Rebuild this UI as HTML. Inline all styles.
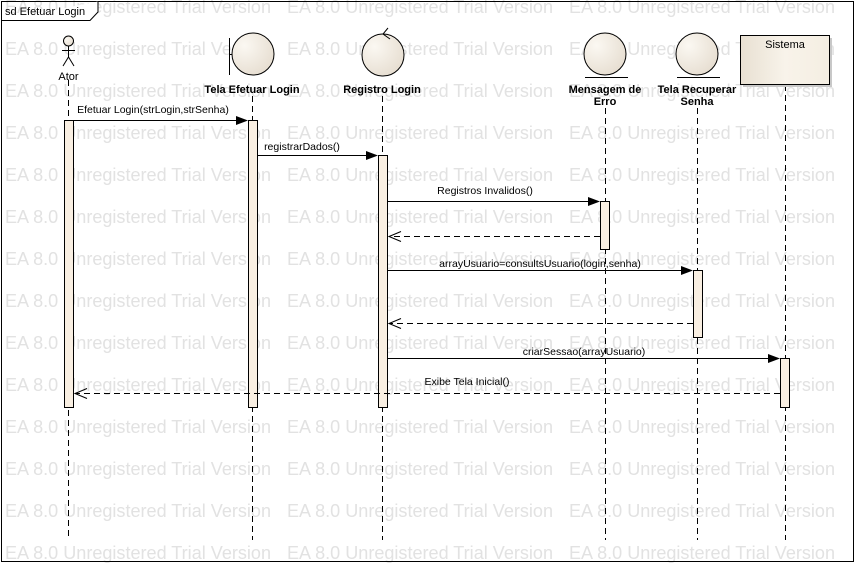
<!DOCTYPE html>
<html><head><meta charset="utf-8"><style>
html,body{margin:0;padding:0;background:#fff;width:855px;height:563px;overflow:hidden}
svg{display:block}
.wm{font-family:"Liberation Sans",sans-serif;font-size:18px;fill:#e2e2e2}
.lb{font-family:"Liberation Sans",sans-serif;font-size:11px;font-weight:bold;fill:#000}
.ml{font-family:"Liberation Sans",sans-serif;font-size:10.5px;fill:#000}
</style></head><body>
<svg width="855" height="563" viewBox="0 0 855 563" xmlns="http://www.w3.org/2000/svg">
<defs>
<radialGradient id="g" cx="0.3" cy="0.3" r="0.8"><stop offset="0" stop-color="#fbf8f2"/><stop offset="1" stop-color="#e6ddd0"/></radialGradient>
<linearGradient id="gr" x1="0" y1="0" x2="1" y2="0"><stop offset="0" stop-color="#e8e0d2"/><stop offset="0.5" stop-color="#f8f3ea"/><stop offset="1" stop-color="#f4eee2"/></linearGradient>
<text id="w" class="wm" textLength="266" lengthAdjust="spacingAndGlyphs">EA 8.0 Unregistered Trial Version</text>
</defs>
<rect width="855" height="563" fill="#fff"/>
<g class="wm">
<text x="5" y="13" textLength="266" lengthAdjust="spacingAndGlyphs">EA 8.0 Unregistered Trial Version</text><text x="287" y="13" textLength="266" lengthAdjust="spacingAndGlyphs">EA 8.0 Unregistered Trial Version</text><text x="569" y="13" textLength="266" lengthAdjust="spacingAndGlyphs">EA 8.0 Unregistered Trial Version</text>
<text x="5" y="55" textLength="266" lengthAdjust="spacingAndGlyphs">EA 8.0 Unregistered Trial Version</text><text x="287" y="55" textLength="266" lengthAdjust="spacingAndGlyphs">EA 8.0 Unregistered Trial Version</text><text x="569" y="55" textLength="266" lengthAdjust="spacingAndGlyphs">EA 8.0 Unregistered Trial Version</text>
<text x="5" y="97" textLength="266" lengthAdjust="spacingAndGlyphs">EA 8.0 Unregistered Trial Version</text><text x="287" y="97" textLength="266" lengthAdjust="spacingAndGlyphs">EA 8.0 Unregistered Trial Version</text><text x="569" y="97" textLength="266" lengthAdjust="spacingAndGlyphs">EA 8.0 Unregistered Trial Version</text>
<text x="5" y="139" textLength="266" lengthAdjust="spacingAndGlyphs">EA 8.0 Unregistered Trial Version</text><text x="287" y="139" textLength="266" lengthAdjust="spacingAndGlyphs">EA 8.0 Unregistered Trial Version</text><text x="569" y="139" textLength="266" lengthAdjust="spacingAndGlyphs">EA 8.0 Unregistered Trial Version</text>
<text x="5" y="181" textLength="266" lengthAdjust="spacingAndGlyphs">EA 8.0 Unregistered Trial Version</text><text x="287" y="181" textLength="266" lengthAdjust="spacingAndGlyphs">EA 8.0 Unregistered Trial Version</text><text x="569" y="181" textLength="266" lengthAdjust="spacingAndGlyphs">EA 8.0 Unregistered Trial Version</text>
<text x="5" y="223" textLength="266" lengthAdjust="spacingAndGlyphs">EA 8.0 Unregistered Trial Version</text><text x="287" y="223" textLength="266" lengthAdjust="spacingAndGlyphs">EA 8.0 Unregistered Trial Version</text><text x="569" y="223" textLength="266" lengthAdjust="spacingAndGlyphs">EA 8.0 Unregistered Trial Version</text>
<text x="5" y="265" textLength="266" lengthAdjust="spacingAndGlyphs">EA 8.0 Unregistered Trial Version</text><text x="287" y="265" textLength="266" lengthAdjust="spacingAndGlyphs">EA 8.0 Unregistered Trial Version</text><text x="569" y="265" textLength="266" lengthAdjust="spacingAndGlyphs">EA 8.0 Unregistered Trial Version</text>
<text x="5" y="307" textLength="266" lengthAdjust="spacingAndGlyphs">EA 8.0 Unregistered Trial Version</text><text x="287" y="307" textLength="266" lengthAdjust="spacingAndGlyphs">EA 8.0 Unregistered Trial Version</text><text x="569" y="307" textLength="266" lengthAdjust="spacingAndGlyphs">EA 8.0 Unregistered Trial Version</text>
<text x="5" y="349" textLength="266" lengthAdjust="spacingAndGlyphs">EA 8.0 Unregistered Trial Version</text><text x="287" y="349" textLength="266" lengthAdjust="spacingAndGlyphs">EA 8.0 Unregistered Trial Version</text><text x="569" y="349" textLength="266" lengthAdjust="spacingAndGlyphs">EA 8.0 Unregistered Trial Version</text>
<text x="5" y="391" textLength="266" lengthAdjust="spacingAndGlyphs">EA 8.0 Unregistered Trial Version</text><text x="287" y="391" textLength="266" lengthAdjust="spacingAndGlyphs">EA 8.0 Unregistered Trial Version</text><text x="569" y="391" textLength="266" lengthAdjust="spacingAndGlyphs">EA 8.0 Unregistered Trial Version</text>
<text x="5" y="433" textLength="266" lengthAdjust="spacingAndGlyphs">EA 8.0 Unregistered Trial Version</text><text x="287" y="433" textLength="266" lengthAdjust="spacingAndGlyphs">EA 8.0 Unregistered Trial Version</text><text x="569" y="433" textLength="266" lengthAdjust="spacingAndGlyphs">EA 8.0 Unregistered Trial Version</text>
<text x="5" y="475" textLength="266" lengthAdjust="spacingAndGlyphs">EA 8.0 Unregistered Trial Version</text><text x="287" y="475" textLength="266" lengthAdjust="spacingAndGlyphs">EA 8.0 Unregistered Trial Version</text><text x="569" y="475" textLength="266" lengthAdjust="spacingAndGlyphs">EA 8.0 Unregistered Trial Version</text>
<text x="5" y="517" textLength="266" lengthAdjust="spacingAndGlyphs">EA 8.0 Unregistered Trial Version</text><text x="287" y="517" textLength="266" lengthAdjust="spacingAndGlyphs">EA 8.0 Unregistered Trial Version</text><text x="569" y="517" textLength="266" lengthAdjust="spacingAndGlyphs">EA 8.0 Unregistered Trial Version</text>
<text x="5" y="559" textLength="266" lengthAdjust="spacingAndGlyphs">EA 8.0 Unregistered Trial Version</text><text x="287" y="559" textLength="266" lengthAdjust="spacingAndGlyphs">EA 8.0 Unregistered Trial Version</text><text x="569" y="559" textLength="266" lengthAdjust="spacingAndGlyphs">EA 8.0 Unregistered Trial Version</text>
</g>
<!-- frame -->
<rect x="1.5" y="1.5" width="852" height="560" fill="none" stroke="#000"/>
<path d="M1.5 20.5 H90 L98 12 V1.5" fill="#fff" stroke="#000"/>
<text x="5" y="15" class="ml" style="font-size:11px">sd Efetuar Login</text>
<!-- lifelines -->
<g stroke="#000" stroke-dasharray="6,4" fill="none">
<line x1="68.5" y1="80" x2="68.5" y2="540"/>
<line x1="252.5" y1="96" x2="252.5" y2="540"/>
<line x1="382.5" y1="96" x2="382.5" y2="540"/>
<line x1="605.5" y1="108" x2="605.5" y2="540"/>
<line x1="697.5" y1="108" x2="697.5" y2="540"/>
<line x1="785.5" y1="85" x2="785.5" y2="540"/>
</g>
<!-- actor -->
<g stroke="#000" fill="none">
<circle cx="68.5" cy="41" r="5" fill="url(#g)"/>
<line x1="68.5" y1="46" x2="68.5" y2="57"/>
<line x1="62" y1="50.5" x2="75" y2="50.5"/>
<path d="M63 66 L68.5 57 L74 66"/>
</g>
<text x="68.5" y="80" class="ml" text-anchor="middle" style="font-size:11px">Ator</text>
<!-- boundary -->
<circle cx="253" cy="54" r="21" fill="url(#g)" stroke="#000"/>
<line x1="229.5" y1="38" x2="229.5" y2="75" stroke="#000"/>
<line x1="229.5" y1="54.5" x2="232" y2="54.5" stroke="#000"/>
<text x="252" y="93" class="lb" text-anchor="middle">Tela Efetuar Login</text>
<!-- control -->
<circle cx="383" cy="55" r="21" fill="url(#g)" stroke="#000"/>
<path d="M388 28 L383 34 L390 39" fill="none" stroke="#000"/>
<text x="382" y="93" class="lb" text-anchor="middle">Registro Login</text>
<!-- entities -->
<circle cx="605" cy="54" r="21" fill="url(#g)" stroke="#000"/>
<line x1="585" y1="77.5" x2="628" y2="77.5" stroke="#000"/>
<text x="605" y="93" class="lb" text-anchor="middle">Mensagem de</text>
<text x="605" y="105" class="lb" text-anchor="middle">Erro</text>
<circle cx="697" cy="54" r="21" fill="url(#g)" stroke="#000"/>
<line x1="677" y1="77.5" x2="720" y2="77.5" stroke="#000"/>
<text x="697" y="93" class="lb" text-anchor="middle">Tela Recuperar</text>
<text x="697" y="105" class="lb" text-anchor="middle">Senha</text>
<!-- sistema -->
<rect x="743" y="38" width="89" height="49" fill="#c8c8c8"/>
<rect x="740.5" y="35.5" width="89" height="49" fill="url(#gr)" stroke="#000"/>
<text x="785" y="48" class="ml" text-anchor="middle" style="font-size:11px">Sistema</text>
<!-- activations -->
<g fill="#f9efe2" stroke="#000">
<rect x="64.5" y="120.5" width="9" height="287"/>
<rect x="248.5" y="120.5" width="9" height="287"/>
<rect x="378.5" y="155.5" width="9" height="252"/>
<rect x="600.5" y="201.5" width="9" height="48"/>
<rect x="693.5" y="270.5" width="9" height="67"/>
<rect x="780.5" y="358.5" width="9" height="49"/>
</g>
<!-- messages -->
<g stroke="#000" fill="none">
<line x1="74" y1="120.5" x2="238" y2="120.5"/>
<line x1="258" y1="155.5" x2="368" y2="155.5"/>
<line x1="388" y1="201.5" x2="590" y2="201.5"/>
<line x1="388" y1="270.5" x2="683" y2="270.5"/>
<line x1="388" y1="358.5" x2="770" y2="358.5"/>
<g stroke-dasharray="6,4">
<line x1="600" y1="236.5" x2="389" y2="236.5"/>
<line x1="693" y1="323.5" x2="389" y2="323.5"/>
<line x1="780" y1="393.5" x2="75" y2="393.5"/>
</g>
<path d="M401 231.5 L389 236.5 L401 241.5"/>
<path d="M401 318.5 L389 323.5 L401 328.5"/>
<path d="M87 388.5 L75 393.5 L87 398.5"/>
</g>
<g fill="#000">
<path d="M236 116 L248 120.5 L236 125Z"/>
<path d="M366 151 L378 155.5 L366 160Z"/>
<path d="M588 197 L600 201.5 L588 206Z"/>
<path d="M681 266 L693 270.5 L681 275Z"/>
<path d="M768 354 L780 358.5 L768 363Z"/>
</g>
<text x="153" y="113" class="ml" text-anchor="middle">Efetuar Login(strLogin,strSenha)</text>
<text x="302" y="150" class="ml" text-anchor="middle">registrarDados()</text>
<text x="485" y="194" class="ml" text-anchor="middle">Registros Invalidos()</text>
<text x="540" y="267" class="ml" text-anchor="middle">arrayUsuario=consultsUsuario(login,senha)</text>
<text x="584" y="355" class="ml" text-anchor="middle">criarSessao(arrayUsuario)</text>
<text x="467" y="385" class="ml" text-anchor="middle">Exibe Tela Inicial()</text>
</svg>
</body></html>
